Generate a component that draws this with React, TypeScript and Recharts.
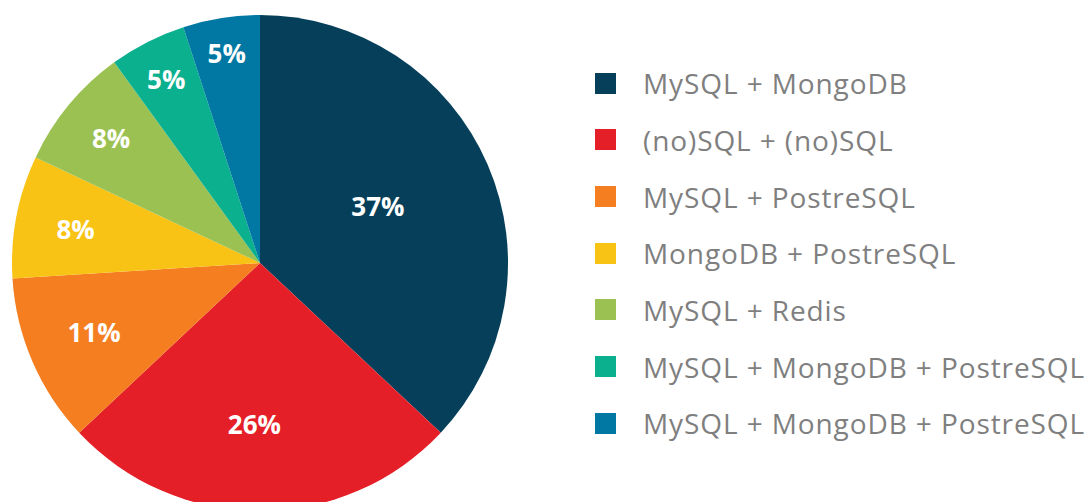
import { Cell, Legend, Pie, PieChart } from "recharts";

const CATEGORIES = [
  "MySQL + MongoDB",
  "(no)SQL + (no)SQL",
  "MySQL + PostreSQL",
  "MongoDB + PostreSQL",
  "MySQL + Redis",
  "MySQL + MongoDB + PostreSQL",
  "MySQL + MongoDB + PostreSQL",
];
const SHARES = [37, 26, 11, 8, 8, 5, 5];
const COLORS = ["#063F5A", "#E51F27", "#F47E20", "#F8C315", "#9BC153", "#0BB08F", "#0078A3"];

// label placement: distance from centre (fraction of radius) and a small angle nudge in degrees
const LABEL_RADIUS = [0.528, 0.648, 0.725, 0.756, 0.785, 0.833, 0.857];
const LABEL_NUDGE = [2.4, -2, -0.8, 0.5, -0.5, 0, 0];

const data = CATEGORIES.map((name, i) => ({ key: `${name}-${i}`, name, value: SHARES[i] }));

const RADIAN = Math.PI / 180;

function renderLabel(props: any) {
  const { cx, cy, midAngle, outerRadius, index, value } = props;
  const r = outerRadius * LABEL_RADIUS[index];
  const angle = (midAngle + LABEL_NUDGE[index]) * RADIAN;
  const x = cx + r * Math.cos(-angle);
  const y = cy + r * Math.sin(-angle);
  return (
    <text
      x={x}
      y={y}
      fill="#ffffff"
      textAnchor="middle"
      dominantBaseline="central"
      fontSize={26}
      fontWeight={700}
      fontFamily="'Open Sans', sans-serif"
    >
      {`${value}%`}
    </text>
  );
}

function renderLegend() {
  return (
    <div style={{ fontFamily: "'Open Sans', sans-serif" }}>
      {data.map((entry, i) => (
        <div key={entry.key} style={{ display: "flex", alignItems: "center", height: 56.67 }}>
          <span style={{ width: 21, height: 21, background: COLORS[i], display: "inline-block", flex: "none" }} />
          <span
            style={{
              marginLeft: 27,
              fontSize: 28,
              letterSpacing: 0.9,
              color: "#7F7F7F",
              whiteSpace: "nowrap",
            }}
          >
            {entry.name}
          </span>
        </div>
      ))}
    </div>
  );
}

export default function App() {
  return (
    <div style={{ position: "fixed", left: 0, top: 0, width: 1090, height: 502, background: "#ffffff" }}>
      <PieChart width={1090} height={502} margin={{ top: 0, right: 0, bottom: 0, left: 0 }}>
        <Pie
          data={data}
          dataKey="value"
          nameKey="name"
          cx={260}
          cy={263}
          outerRadius={248}
          startAngle={90}
          endAngle={-270}
          stroke="none"
          labelLine={false}
          label={renderLabel}
          isAnimationActive={false}
        >
          {data.map((entry, i) => (
            <Cell key={entry.key} fill={COLORS[i]} />
          ))}
        </Pie>
        <Legend
          content={renderLegend}
          layout="vertical"
          wrapperStyle={{ position: "absolute", left: 595, top: 55, width: 495 }}
        />
      </PieChart>
    </div>
  );
}
